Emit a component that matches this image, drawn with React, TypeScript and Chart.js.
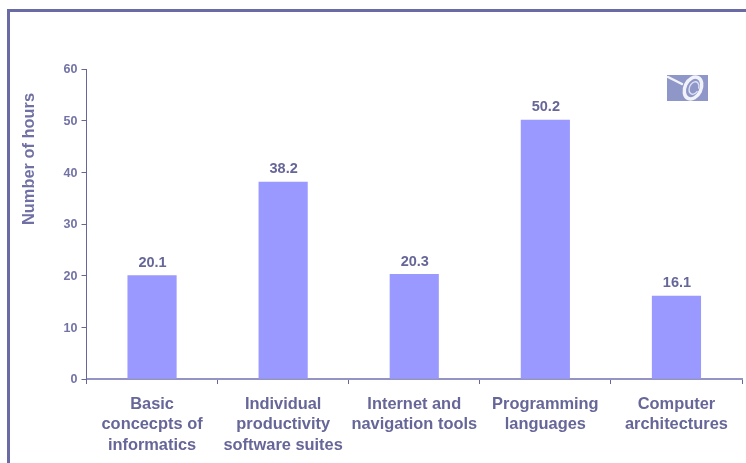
import React, { useEffect, useRef } from "react";
import { Chart, registerables } from "chart.js";

Chart.register(...registerables);

const categories = [
  ["Basic", "concecpts of", "informatics"],
  ["Individual", "productivity", "software suites"],
  ["Internet and", "navigation tools"],
  ["Programming", "languages"],
  ["Computer", "architectures"],
];
const hours = [20.1, 38.2, 20.3, 50.2, 16.1];
const yTicks = [0, 10, 20, 30, 40, 50, 60];
const yTitle = "Number of hours";

const FONT = "'Liberation Sans', Arial, sans-serif";
const INK = "#666699";
const TICK_INK = "#7272a6";
const BAR = "#9999ff";
const AXIS = "#666699";

// Outer frame: open along the bottom and the right edge of the page.
const framePlugin = {
  id: "frame",
  beforeDraw(chart: any) {
    const { ctx, width, height } = chart;
    ctx.save();
    ctx.strokeStyle = "#6a6aa4";
    ctx.lineWidth = 3;
    ctx.beginPath();
    ctx.moveTo(8.5, height);
    ctx.lineTo(8.5, 10.5);
    ctx.lineTo(width, 10.5);
    ctx.stroke();
    ctx.restore();
  },
};

// Value above each bar and the rotated axis caption.
const labelPlugin = {
  id: "labels",
  afterDatasetsDraw(chart: any) {
    const { ctx } = chart;
    const meta = chart.getDatasetMeta(0);
    ctx.save();
    ctx.fillStyle = INK;
    ctx.font = `bold 14.5px ${FONT}`;
    ctx.textAlign = "center";
    ctx.textBaseline = "alphabetic";
    meta.data.forEach((bar: any, i: number) => {
      ctx.fillText(hours[i].toFixed(1), bar.x + 0.5, bar.y - 8.5);
    });
    ctx.translate(34, 159);
    ctx.rotate(-Math.PI / 2);
    ctx.font = `bold 16.4px ${FONT}`;
    ctx.fillStyle = "#7070a4";
    ctx.fillText(yTitle, 0, 0);
    ctx.restore();
  },
};

// Small "@ under a magnifier" emblem in the upper right of the plot.
const emblemPlugin = {
  id: "emblem",
  afterDraw(chart: any) {
    const { ctx } = chart;
    const x = 667;
    const y = 75;
    const w = 41;
    const h = 26;
    ctx.save();
    ctx.fillStyle = "#8f97c9";
    ctx.fillRect(x, y, w, h);
    ctx.strokeStyle = "#f2f3fa";
    ctx.lineCap = "round";
    ctx.lineWidth = 2.5;
    ctx.beginPath();
    ctx.moveTo(x + 1, y + 2);
    ctx.lineTo(x + 15, y + 9);
    ctx.stroke();
    ctx.lineWidth = 3.5;
    ctx.beginPath();
    ctx.ellipse(x + 26, y + 13, 8, 11.5, 0.45, 0, Math.PI * 2);
    ctx.stroke();
    ctx.strokeStyle = "#dfe2f2";
    ctx.lineWidth = 1.4;
    ctx.beginPath();
    ctx.ellipse(x + 27, y + 13, 4.5, 6.5, 0.45, 0.3, Math.PI * 1.9);
    ctx.stroke();
    ctx.restore();
  },
};

export default function App() {
  const ref = useRef<HTMLCanvasElement>(null);

  useEffect(() => {
    const chart = new Chart(ref.current!, {
      type: "bar",
      data: {
        labels: categories,
        datasets: [
          {
            data: hours,
            backgroundColor: BAR,
            categoryPercentage: 1,
            barPercentage: 0.375,
          },
        ],
      },
      plugins: [framePlugin, labelPlugin, emblemPlugin],
      options: {
        animation: false,
        responsive: false,
        layout: { padding: { top: 69, right: 4, left: 0, bottom: 0 } },
        plugins: { legend: { display: false }, tooltip: { enabled: false } },
        scales: {
          x: {
            afterFit(scale: any) {
              scale.height = 84;
            },
            offset: true,
            border: { color: "#9494c4", width: 2 },
            grid: {
              display: true,
              drawOnChartArea: false,
              drawTicks: true,
              tickLength: 5,
              offset: true,
              color: AXIS,
            },
            ticks: {
              color: INK,
              font: { family: FONT, weight: "bold", size: 16.4, lineHeight: 1.25 },
              maxRotation: 0,
              autoSkip: false,
              padding: 10,
            },
          },
          y: {
            min: 0,
            max: 60,
            afterFit(scale: any) {
              scale.width = 86.5;
            },
            afterBuildTicks(scale: any) {
              scale.ticks = yTicks.map((value) => ({ value }));
            },
            border: { color: AXIS, width: 1 },
            grid: {
              display: true,
              drawOnChartArea: false,
              drawTicks: true,
              tickLength: 5,
              color: AXIS,
            },
            ticks: {
              color: TICK_INK,
              font: { family: FONT, weight: "bold", size: 12.5 },
              padding: 4,
              labelOffset: 1,
            },
          },
        },
      },
    } as any);
    return () => chart.destroy();
  }, []);

  return (
    <div style={{ position: "absolute", left: 0, top: 0, width: 746, height: 463, background: "#fff" }}>
      <canvas ref={ref} width={746} height={463} style={{ display: "block" }} />
    </div>
  );
}
